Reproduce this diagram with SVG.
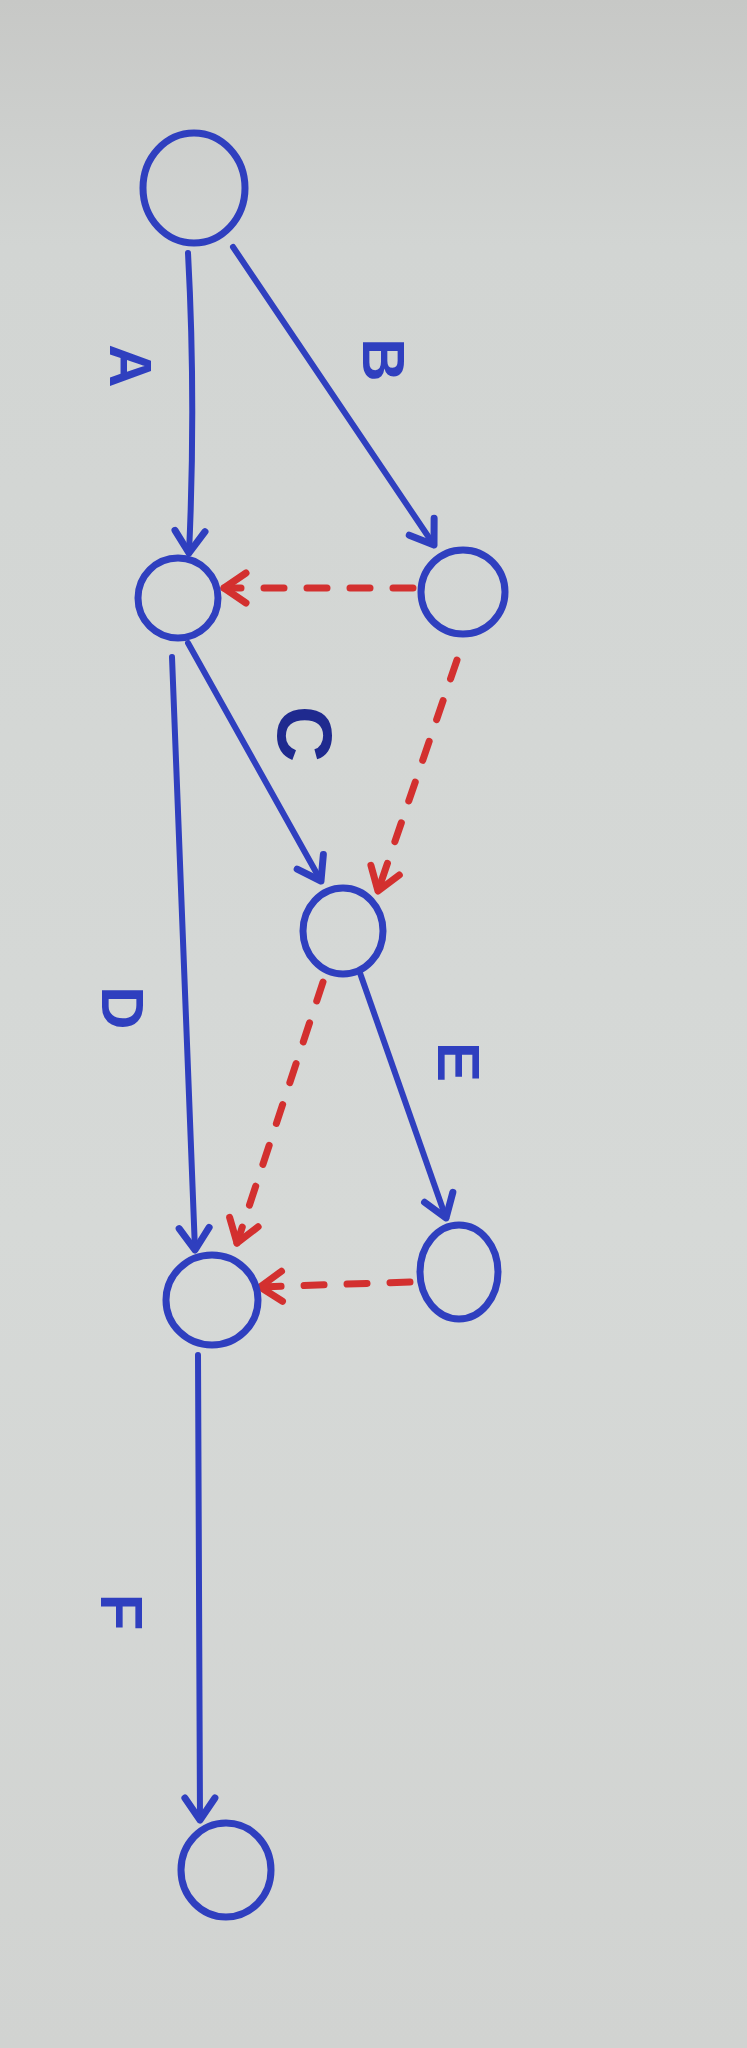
<svg xmlns="http://www.w3.org/2000/svg" width="747" height="2048" viewBox="0 0 747 2048">
<defs>
<linearGradient id="bg" x1="0" y1="0" x2="0" y2="1">
<stop offset="0" stop-color="#c7c8c6"/>
<stop offset="0.12" stop-color="#d2d5d3"/>
<stop offset="0.6" stop-color="#d6d9d7"/>
<stop offset="1" stop-color="#d1d3d1"/>
</linearGradient>
<marker id="ab" markerUnits="userSpaceOnUse" markerWidth="40" markerHeight="40" viewBox="-30 -20 36 40" refX="0" refY="0" orient="auto">
<path d="M-22 -15 L0 0 L-22 15" fill="none" stroke="#2f3fbf" stroke-width="7" stroke-linecap="round" stroke-linejoin="round"/>
</marker>
<marker id="ar" markerUnits="userSpaceOnUse" markerWidth="40" markerHeight="40" viewBox="-30 -20 36 40" refX="0" refY="0" orient="auto">
<path d="M-22 -15 L0 0 L-22 15" fill="none" stroke="#d3302f" stroke-width="7" stroke-linecap="round" stroke-linejoin="round"/>
</marker>
</defs>
<style>
.node{fill:none;stroke:#2f3fbf;stroke-width:7}
.e{fill:none;stroke:#2f3fbf;stroke-width:6;stroke-linecap:round;marker-end:url(#ab)}
.d{fill:none;stroke:#d3302f;stroke-width:7;stroke-linecap:round;stroke-dasharray:20 23;marker-end:url(#ar)}
.lbl{font-family:"Liberation Sans",Arial,sans-serif;font-weight:bold;font-size:60px;fill:#2f3fbf;text-anchor:middle;dominant-baseline:central}
</style>
<rect x="0" y="0" width="747" height="2048" fill="url(#bg)"/>
<g id="connectors">
<path class="e" d="M188 253 Q196 400 189 553"/>
<path class="e" d="M233 247 L434 545"/>
<path class="e" d="M188 643 L321 881"/>
<path class="e" d="M172 657 L195 1250"/>
<path class="e" d="M360 973 L446 1218"/>
<path class="e" d="M198 1355 L200 1820"/>
<path class="d" d="M413 588 L224 588"/>
<path class="d" d="M457 660 L378 891"/>
<path class="d" d="M323 982 L237 1243"/>
<path class="d" d="M410 1282 L260 1287"/>
</g>
<g id="n1"><ellipse class="node" cx="194" cy="188" rx="51" ry="55"/></g>
<g id="n2"><ellipse class="node" cx="178" cy="598" rx="40" ry="40"/></g>
<g id="n3"><ellipse class="node" cx="463" cy="592" rx="42" ry="42"/></g>
<g id="n4"><ellipse class="node" cx="343" cy="931" rx="40" ry="43"/></g>
<g id="n5"><ellipse class="node" cx="212" cy="1300" rx="46" ry="45"/></g>
<g id="n6"><ellipse class="node" cx="459" cy="1272" rx="39" ry="47"/></g>
<g id="n7"><ellipse class="node" cx="226" cy="1870" rx="45" ry="47"/></g>
<g id="labels">
<text class="lbl" transform="translate(130 366) rotate(90)">A</text>
<text class="lbl" transform="translate(383 360) rotate(90)">B</text>
<text class="lbl" transform="translate(305 734) rotate(90)" style="font-size:78px;fill:#1f2a8f">C</text>
<text class="lbl" transform="translate(122 1008) rotate(90)">D</text>
<text class="lbl" transform="translate(458 1062) rotate(90)">E</text>
<text class="lbl" transform="translate(121 1612) rotate(90)">F</text>
</g>
</svg>
